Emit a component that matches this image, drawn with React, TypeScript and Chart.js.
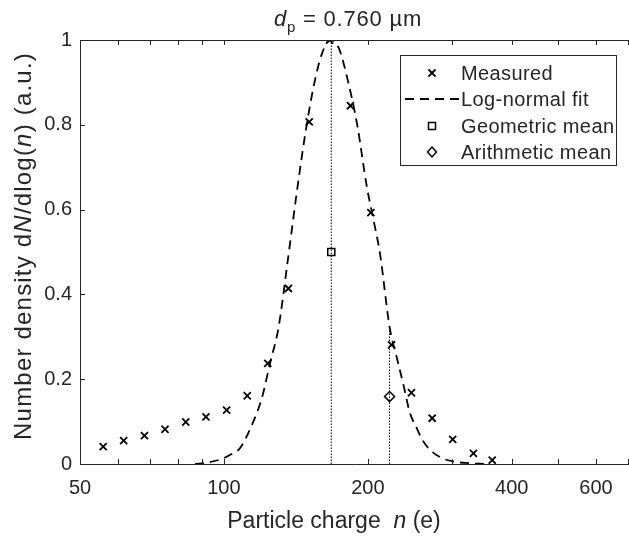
import React, { useEffect, useRef } from "react";
import { Chart, registerables } from "chart.js";

Chart.register(...registerables);

// ---- data ----
const measuredN = [55.9, 61.7, 68.2, 75.3, 83.2, 91.7, 101.3, 111.9, 123.5, 136.4, 150.8, 166.3, 183.9, 202.9, 224.2, 246.7, 272.6, 300.9, 332.5, 364];
const measuredY = [0.041, 0.055, 0.067, 0.082, 0.099, 0.111, 0.127, 0.161, 0.2375, 0.414, 0.807, 1.0, 0.845, 0.593, 0.281, 0.168, 0.108, 0.058, 0.025, 0.009];

const fitN = [87, 92, 99, 104, 108, 114, 120, 125, 130, 136, 142, 148, 154, 160, 167, 174, 182, 190, 199, 206, 212, 222, 230, 237, 245, 253, 260, 270, 287, 305, 325, 352];
const fitY = [0.0, 0.003, 0.012, 0.024, 0.037, 0.088, 0.155, 0.24, 0.32, 0.48, 0.64, 0.78, 0.89, 0.965, 1.0, 0.98, 0.9, 0.8, 0.654, 0.57, 0.497, 0.324, 0.25, 0.19, 0.12, 0.085, 0.057, 0.033, 0.013, 0.005, 0.002, 0.0];

const geoMeanN = 167.7;
const geoMeanY = 0.5;
const geoFitY = 1.0;
const ariMeanN = 222;
const ariMeanY = 0.159;
const ariFitY = 0.316;

const xTickValues = [50, 60, 70, 80, 90, 100, 200, 300, 400, 500, 600, 700];
const xTickLabels = ["50", "", "", "", "", "100", "200", "", "400", "", "600", ""];
const yTickValues = [0, 0.2, 0.4, 0.6, 0.8, 1];
const yTickLabels = ["0", "0.2", "0.4", "0.6", "0.8", "1"];
const legendLabels = ["Measured", "Log-normal fit", "Geometric mean", "Arithmetic mean"];

const FONT = '"Liberation Sans", Arial, sans-serif';
const INK = "#262626";

type Seg = { t: string; it?: boolean; sub?: boolean };

function drawRich(ctx: CanvasRenderingContext2D, segs: Seg[], cx: number, baseY: number, size: number, spacing = 0) {
  const c: any = ctx;
  c.letterSpacing = `${spacing}px`;
  const fontFor = (s: Seg) => `${s.it ? "italic " : ""}${s.sub ? Math.round(size * 0.7) : size}px ${FONT}`;
  let total = 0;
  for (const s of segs) { ctx.font = fontFor(s); total += ctx.measureText(s.t).width; }
  let x = cx - total / 2;
  ctx.textAlign = "left";
  ctx.textBaseline = "alphabetic";
  for (const s of segs) {
    ctx.font = fontFor(s);
    ctx.fillText(s.t, x, baseY + (s.sub ? size * 0.25 : 0));
    x += ctx.measureText(s.t).width;
  }
  c.letterSpacing = "0px";
}

const decorPlugin = {
  id: "decor",
  afterDraw(chart: any) {
    const { ctx, chartArea } = chart;
    const { left, right, top, bottom } = chartArea;
    const xs = chart.scales.x;
    const ys = chart.scales.y;
    ctx.save();
    ctx.strokeStyle = INK;
    ctx.lineWidth = 1;
    // top border
    ctx.beginPath();
    ctx.moveTo(left, top + 0.5);
    ctx.lineTo(right, top + 0.5);
    ctx.stroke();
    // inward ticks
    const tl = 5;
    ctx.beginPath();
    for (const v of xTickValues) {
      const px = Math.round(xs.getPixelForValue(v)) + 0.5;
      ctx.moveTo(px, bottom);
      ctx.lineTo(px, bottom - tl);
      ctx.moveTo(px, top);
      ctx.lineTo(px, top + tl);
    }
    for (const v of yTickValues) {
      const py = Math.round(ys.getPixelForValue(v)) + 0.5;
      ctx.moveTo(left, py);
      ctx.lineTo(left + tl, py);
    }
    ctx.stroke();

    // legend
    const bx = 400, by = 55, bw = 216, bh = 110;
    ctx.fillStyle = "#fff";
    ctx.fillRect(bx, by, bw, bh);
    ctx.strokeStyle = INK;
    ctx.strokeRect(bx + 0.5, by + 0.5, bw, bh);
    const rows = [73, 99, 126, 152];
    const mx = 432;
    ctx.strokeStyle = "#000";
    ctx.lineWidth = 1.8;
    ctx.beginPath();
    ctx.moveTo(mx - 3.5, rows[0] - 3.5); ctx.lineTo(mx + 3.5, rows[0] + 3.5);
    ctx.moveTo(mx + 3.5, rows[0] - 3.5); ctx.lineTo(mx - 3.5, rows[0] + 3.5);
    ctx.stroke();
    ctx.setLineDash([9, 6]);
    ctx.beginPath();
    ctx.moveTo(405, rows[1]); ctx.lineTo(459, rows[1]);
    ctx.stroke();
    ctx.setLineDash([]);
    ctx.lineWidth = 1.5;
    ctx.strokeRect(mx - 3.5, rows[2] - 3.5, 7, 7);
    ctx.beginPath();
    ctx.moveTo(mx, rows[3] - 5); ctx.lineTo(mx + 4.5, rows[3]); ctx.lineTo(mx, rows[3] + 5); ctx.lineTo(mx - 4.5, rows[3]);
    ctx.closePath();
    ctx.stroke();
    ctx.fillStyle = INK;
    (ctx as any).letterSpacing = "0.4px";
    ctx.font = `20px ${FONT}`;
    ctx.textAlign = "left";
    ctx.textBaseline = "middle";
    legendLabels.forEach((l, i) => ctx.fillText(l, 461, rows[i] + 1));
    (ctx as any).letterSpacing = "0px";

    // title
    ctx.fillStyle = INK;
    drawRich(ctx, [{ t: "d", it: true }, { t: "p", sub: true }, { t: " = 0.760 \u00b5m" }], 348, 26, 22, 0.8);
    // x title
    drawRich(ctx, [{ t: "Particle charge  " }, { t: "n", it: true }, { t: " (e)" }], 334, 528, 23);
    // y title
    ctx.save();
    ctx.translate(31, (top + bottom) / 2 - 6);
    ctx.rotate(-Math.PI / 2);
    drawRich(ctx, [{ t: "Number density d" }, { t: "N", it: true }, { t: "/dlog(" }, { t: "n", it: true }, { t: ") (a.u.)" }], 0, 0, 24, 1.2);
    ctx.restore();
    ctx.restore();
  },
};

export default function App() {
  const ref = useRef<HTMLCanvasElement | null>(null);
  useEffect(() => {
    if (!ref.current) return;
    const pts = (xs: number[], ys: number[]) => xs.map((x, i) => ({ x, y: ys[i] }));
    const chart = new Chart(ref.current, {
      type: "scatter",
      data: {
        datasets: [
          {
            label: "Log-normal fit",
            data: pts(fitN, fitY),
            showLine: true,
            borderColor: "#000",
            borderWidth: 1.8,
            borderDash: [9, 6],
            pointRadius: 0,
            cubicInterpolationMode: "monotone",
            fill: false,
          } as any,
          {
            label: "geo line",
            data: [{ x: geoMeanN, y: 0 }, { x: geoMeanN, y: geoFitY }],
            showLine: true,
            borderColor: "#000",
            borderWidth: 1,
            borderDash: [1.5, 1.5],
            pointRadius: 0,
          },
          {
            label: "ari line",
            data: [{ x: ariMeanN, y: 0 }, { x: ariMeanN, y: ariFitY }],
            showLine: true,
            borderColor: "#000",
            borderWidth: 1,
            borderDash: [1.5, 1.5],
            pointRadius: 0,
          },
          {
            label: "Measured",
            data: pts(measuredN, measuredY),
            showLine: false,
            pointStyle: "crossRot",
            pointRadius: 5,
            borderColor: "#000",
            borderWidth: 1.8,
          },
          {
            label: "Geometric mean",
            data: [{ x: geoMeanN, y: geoMeanY }],
            pointStyle: "rect",
            pointRadius: 5,
            borderColor: "#000",
            backgroundColor: "rgba(0,0,0,0)",
            borderWidth: 1.5,
          },
          {
            label: "Arithmetic mean",
            data: [{ x: ariMeanN, y: ariMeanY }],
            pointStyle: "rectRot",
            pointRadius: 5,
            borderColor: "#000",
            backgroundColor: "rgba(0,0,0,0)",
            borderWidth: 1.5,
          },
        ],
      },
      options: {
        animation: false,
        responsive: false,
        devicePixelRatio: 1,
        layout: { padding: { top: 40, right: 6, left: 0, bottom: 0 } },
        plugins: { legend: { display: false }, tooltip: { enabled: false }, title: { display: false } },
        scales: {
          x: {
            type: "logarithmic",
            min: 50,
            max: 700,
            afterBuildTicks: (s: any) => { s.ticks = xTickValues.map((v) => ({ value: v })); },
            afterFit: (s: any) => { s.height = 73; },
            ticks: {
              autoSkip: false,
              maxRotation: 0,
              padding: 12,
              color: INK,
              font: { family: FONT, size: 20 },
              callback: (v: any) => { const i = xTickValues.indexOf(Number(v)); return i >= 0 ? xTickLabels[i] : ""; },
            },
            grid: { display: false, drawTicks: false },
            border: { display: true, color: INK, width: 1 },
          },
          y: {
            type: "linear",
            min: 0,
            max: 1,
            afterBuildTicks: (s: any) => { s.ticks = yTickValues.map((v) => ({ value: v })); },
            afterFit: (s: any) => { s.width = 80; },
            ticks: {
              padding: 8,
              color: INK,
              font: { family: FONT, size: 20 },
              callback: (v: any) => { const i = yTickValues.findIndex((t) => Math.abs(t - Number(v)) < 1e-9); return i >= 0 ? yTickLabels[i] : ""; },
            },
            grid: { display: false, drawTicks: false },
            border: { display: true, color: INK, width: 1 },
          },
        },
      },
      plugins: [decorPlugin],
    });
    return () => chart.destroy();
  }, []);
  return (
    <div style={{ position: "absolute", left: 0, top: 0, width: 629, height: 537, overflow: "hidden", background: "#fff" }}>
      <canvas ref={ref} width={640} height={537} style={{ width: 640, height: 537, display: "block" }} />
    </div>
  );
}
